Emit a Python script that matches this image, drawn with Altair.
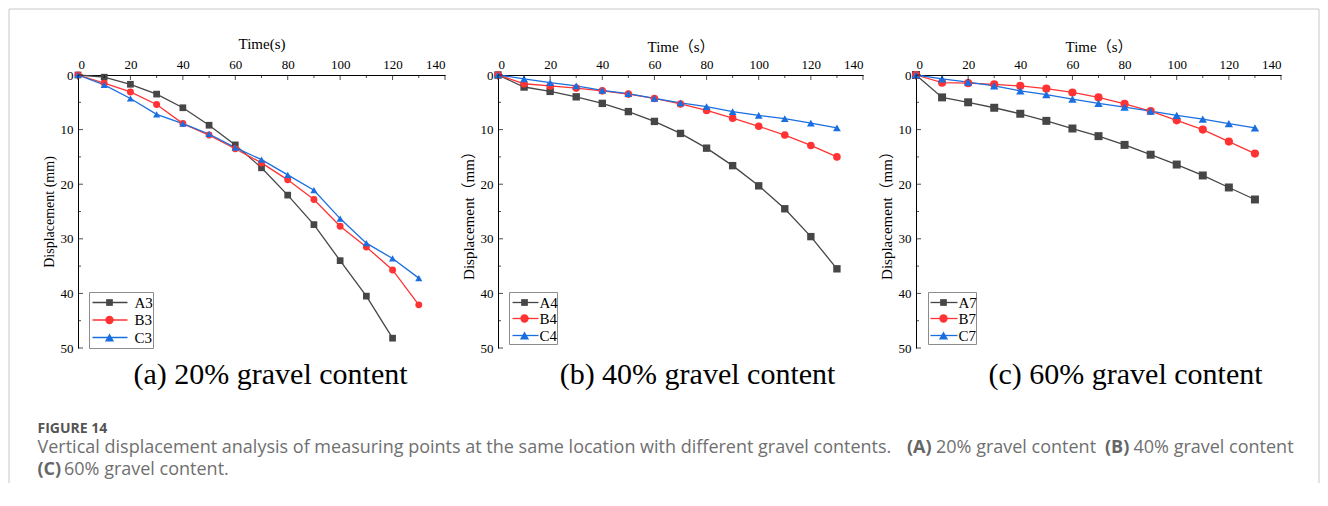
import altair as alt
import pandas as pd

# ---------------- data ----------------
time = [0, 10, 20, 30, 40, 50, 60, 70, 80, 90, 100, 110, 120, 130]

A3 = [0, 0.4, 1.7, 3.5, 6.0, 9.2, 12.8, 17.0, 22.0, 27.4, 34.0, 40.5, 48.2]
B3 = [0, 1.5, 3.1, 5.4, 8.9, 11.0, 13.5, 16.1, 19.2, 22.8, 27.7, 31.5, 35.7, 42.1]
C3 = [0, 1.8, 4.3, 7.2, 8.9, 10.8, 13.3, 15.5, 18.3, 21.1, 26.3, 30.8, 33.6, 37.2]

A4 = [0, 2.2, 3.0, 4.0, 5.2, 6.7, 8.5, 10.7, 13.4, 16.6, 20.3, 24.5, 29.6, 35.5]
B4 = [0, 1.6, 2.0, 2.4, 2.9, 3.5, 4.3, 5.3, 6.5, 7.9, 9.4, 11.0, 12.9, 15.0]
C4 = [0, 0.7, 1.4, 2.0, 2.8, 3.4, 4.3, 5.1, 5.8, 6.7, 7.4, 8.0, 8.8, 9.7]

A7 = [0, 4.1, 5.0, 6.0, 7.1, 8.4, 9.8, 11.2, 12.8, 14.6, 16.4, 18.4, 20.6, 22.8]
B7 = [0, 1.4, 1.5, 1.7, 2.0, 2.5, 3.2, 4.1, 5.3, 6.6, 8.3, 10.0, 12.2, 14.4]
C7 = [0, 0.7, 1.3, 2.0, 2.9, 3.6, 4.4, 5.2, 5.9, 6.6, 7.4, 8.1, 8.9, 9.7]

x_major = [0, 20, 40, 60, 80, 100, 120, 140]
x_minor = [10, 30, 50, 70, 90, 110, 130]
y_major = [0, 10, 20, 30, 40, 50]
y_minor = [5, 15, 25, 35, 45]

subtitles = ["(a) 20% gravel content", "(b) 40% gravel content", "(c) 60% gravel content"]
fig_label = "FIGURE 14"
cap_line1 = "Vertical displacement analysis of measuring points at the same location with different gravel contents."
cap_A = "(A)"
cap_A_txt = "20% gravel content"
cap_B = "(B)"
cap_B_txt = "40% gravel content"
cap_C = "(C)"
cap_C_txt = "60% gravel content."

COLORS = ["#464646", "#ff3333", "#1a6fe0"]
SHAPES = ["square", "circle", "triangle-up"]
SIZES = [45, 70, 85]

SERIF = "'Liberation Serif', 'Times New Roman', 'Noto Sans CJK SC', serif"
SANS = "'Open Sans', 'Noto Sans', sans-serif"
HEIGHT = 273
one = pd.DataFrame({"k": [0]})


def long_df(names, series):
    rows = []
    for n, s in zip(names, series):
        for t, v in zip(time, s):
            rows.append({"time": t, "disp": v, "series": n})
    return pd.DataFrame(rows)


def panel(names, series, xtitle, ytitle, width, ytitle_size, xtitle_pad,
          subtitle, sub_x, leg, extra=None):
    df = long_df(names, series)
    xsc = alt.Scale(domain=[0, 140], nice=False)
    ysc = alt.Scale(domain=[0, 50], reverse=True, nice=False)
    xaxis = alt.Axis(orient="top", values=x_major, ticks=False, grid=False,
                     labelFont=SERIF, labelFontSize=13, labelColor="black",
                     labelPadding=4, domainColor="black", domainWidth=1,
                     title=xtitle, titleFont=SERIF, titleFontSize=15,
                     titleFontWeight="normal", titleColor="black",
                     titlePadding=xtitle_pad)
    yaxis = alt.Axis(orient="left", values=y_major, ticks=False, grid=False,
                     labelFont=SERIF, labelFontSize=13, labelColor="black",
                     labelPadding=5, domainColor="black", domainWidth=1,
                     title=ytitle, titleFont=SERIF, titleFontSize=ytitle_size,
                     titleFontWeight="normal", titleColor="black",
                     titlePadding=4)
    color = alt.Color("series:N", scale=alt.Scale(domain=names, range=COLORS), legend=None)

    lines = alt.Chart(df).mark_line(strokeWidth=1.3).encode(
        x=alt.X("time:Q", scale=xsc, axis=xaxis),
        y=alt.Y("disp:Q", scale=ysc, axis=yaxis),
        color=color,
    )
    points = alt.Chart(df).mark_point(filled=True, opacity=1).encode(
        x=alt.X("time:Q", scale=xsc, axis=xaxis),
        y=alt.Y("disp:Q", scale=ysc, axis=yaxis),
        color=color,
        shape=alt.Shape("series:N", scale=alt.Scale(domain=names, range=SHAPES), legend=None),
        size=alt.Size("series:N", scale=alt.Scale(domain=names, range=SIZES), legend=None),
    )
    xt_major = alt.Chart(pd.DataFrame({"time": x_major})).mark_tick(
        orient="vertical", color="black", thickness=1, size=5).encode(
        x=alt.X("time:Q", scale=xsc, axis=xaxis), y=alt.value(2.5))
    xt_minor = alt.Chart(pd.DataFrame({"time": x_minor})).mark_tick(
        orient="vertical", color="black", thickness=1, size=3).encode(
        x=alt.X("time:Q", scale=xsc, axis=xaxis), y=alt.value(1.5))
    yt_major = alt.Chart(pd.DataFrame({"disp": y_major})).mark_tick(
        orient="horizontal", color="black", thickness=1, size=5).encode(
        y=alt.Y("disp:Q", scale=ysc, axis=yaxis), x=alt.value(2.5))
    yt_minor = alt.Chart(pd.DataFrame({"disp": y_minor})).mark_tick(
        orient="horizontal", color="black", thickness=1, size=3).encode(
        y=alt.Y("disp:Q", scale=ysc, axis=yaxis), x=alt.value(1.5))

    layers = [lines, points, xt_major, xt_minor, yt_major, yt_minor]

    # legend (box, line, marker, label)
    bx1, bx2, by1, by2, lx1, lx2, mx, tx, ly = leg
    layers.append(alt.Chart(one).mark_rect(fill="white", stroke="#8c8c8c", strokeWidth=1).encode(
        x=alt.value(bx1), x2=alt.value(bx2), y=alt.value(by1), y2=alt.value(by2)))
    for i, n in enumerate(names):
        layers.append(alt.Chart(one).mark_rule(color=COLORS[i], strokeWidth=1.3).encode(
            x=alt.value(lx1), x2=alt.value(lx2), y=alt.value(ly[i])))
        layers.append(alt.Chart(one).mark_point(shape=SHAPES[i], filled=True, color=COLORS[i],
                                                size=SIZES[i], opacity=1).encode(
            x=alt.value(mx), y=alt.value(ly[i])))
        layers.append(alt.Chart(one).mark_text(align="left", baseline="middle", font=SERIF,
                                               fontSize=15, color="black").encode(
            x=alt.value(tx), y=alt.value(ly[i]), text=alt.value(n)))

    # subtitle below the panel
    layers.append(alt.Chart(one).mark_text(align="center", baseline="alphabetic", font=SERIF,
                                           fontSize=30, color="black").encode(
        x=alt.value(sub_x), y=alt.value(308.5), text=alt.value(subtitle)))
    if extra:
        layers.extend(extra)
    return alt.layer(*layers).properties(width=width, height=HEIGHT)


# frame and caption (drawn inside panel 1's coordinate space)
FRAME = "#c8c8c8"
extra = [
    alt.Chart(one).mark_rule(color=FRAME, strokeWidth=1).encode(
        x=alt.value(-69), y=alt.value(-66), y2=alt.value(408)),
    alt.Chart(one).mark_rule(color=FRAME, strokeWidth=1).encode(
        x=alt.value(-69), x2=alt.value(1241), y=alt.value(-66)),
    alt.Chart(one).mark_rule(color=FRAME, strokeWidth=1).encode(
        x=alt.value(1241), y=alt.value(-66), y2=alt.value(408)),
]
CAP_FS = 18
cap_items = [
    (fig_label, -40.5, 357.5, "bold", 14, "#555555"),
    (cap_line1, -40.5, 377.5, "normal", CAP_FS, "#707070"),
    (cap_A, 829, 377.5, "bold", CAP_FS, "#666666"),
    (cap_A_txt, 858, 377.5, "normal", CAP_FS, "#707070"),
    (cap_B, 1027, 377.5, "bold", CAP_FS, "#666666"),
    (cap_B_txt, 1055.5, 377.5, "normal", CAP_FS, "#707070"),
    (cap_C, -40.5, 399.5, "bold", CAP_FS, "#666666"),
    (cap_C_txt, -14, 399.5, "normal", CAP_FS, "#707070"),
]
for txt, x, y, wt, fs, col in cap_items:
    extra.append(alt.Chart(one).mark_text(align="left", baseline="alphabetic", font=SANS,
                                          fontSize=fs, fontWeight=wt, color=col).encode(
        x=alt.value(x), y=alt.value(y), text=alt.value(txt)))

p1 = panel(["A3", "B3", "C3"], [A3, B3, C3], "Time(s)", "Displacement (mm)", 367, 14, 7,
           subtitles[0], 192.5,
           (11.5, 75.5, 217.5, 273.5, 14.5, 49.5, 31.5, 56.5, [227.5, 245, 262.5]), extra)
p2 = panel(["A4", "B4", "C4"], [A4, B4, C4], "Time（s）", "Displacement（mm）", 365, 15, 4,
           subtitles[1], 199.5,
           (11.5, 59.5, 217.5, 269.5, 14.5, 40.5, 26.5, 41.5, [227.5, 243.5, 260.5]))
p3 = panel(["A7", "B7", "C7"], [A7, B7, C7], "Time（s）", "Displacement（mm）", 365, 15, 4,
           subtitles[2], 209.5,
           (12.5, 60.5, 217.5, 269.5, 14.5, 41.5, 27.5, 42.5, [227.5, 243.5, 260.5]))

chart = alt.hconcat(p1, p2, p3, spacing=53, bounds="flush").properties(
    padding=0, background="white"
).configure_view(stroke=None)

chart.save("out.html", embed_options={"renderer": "svg", "actions": False})
